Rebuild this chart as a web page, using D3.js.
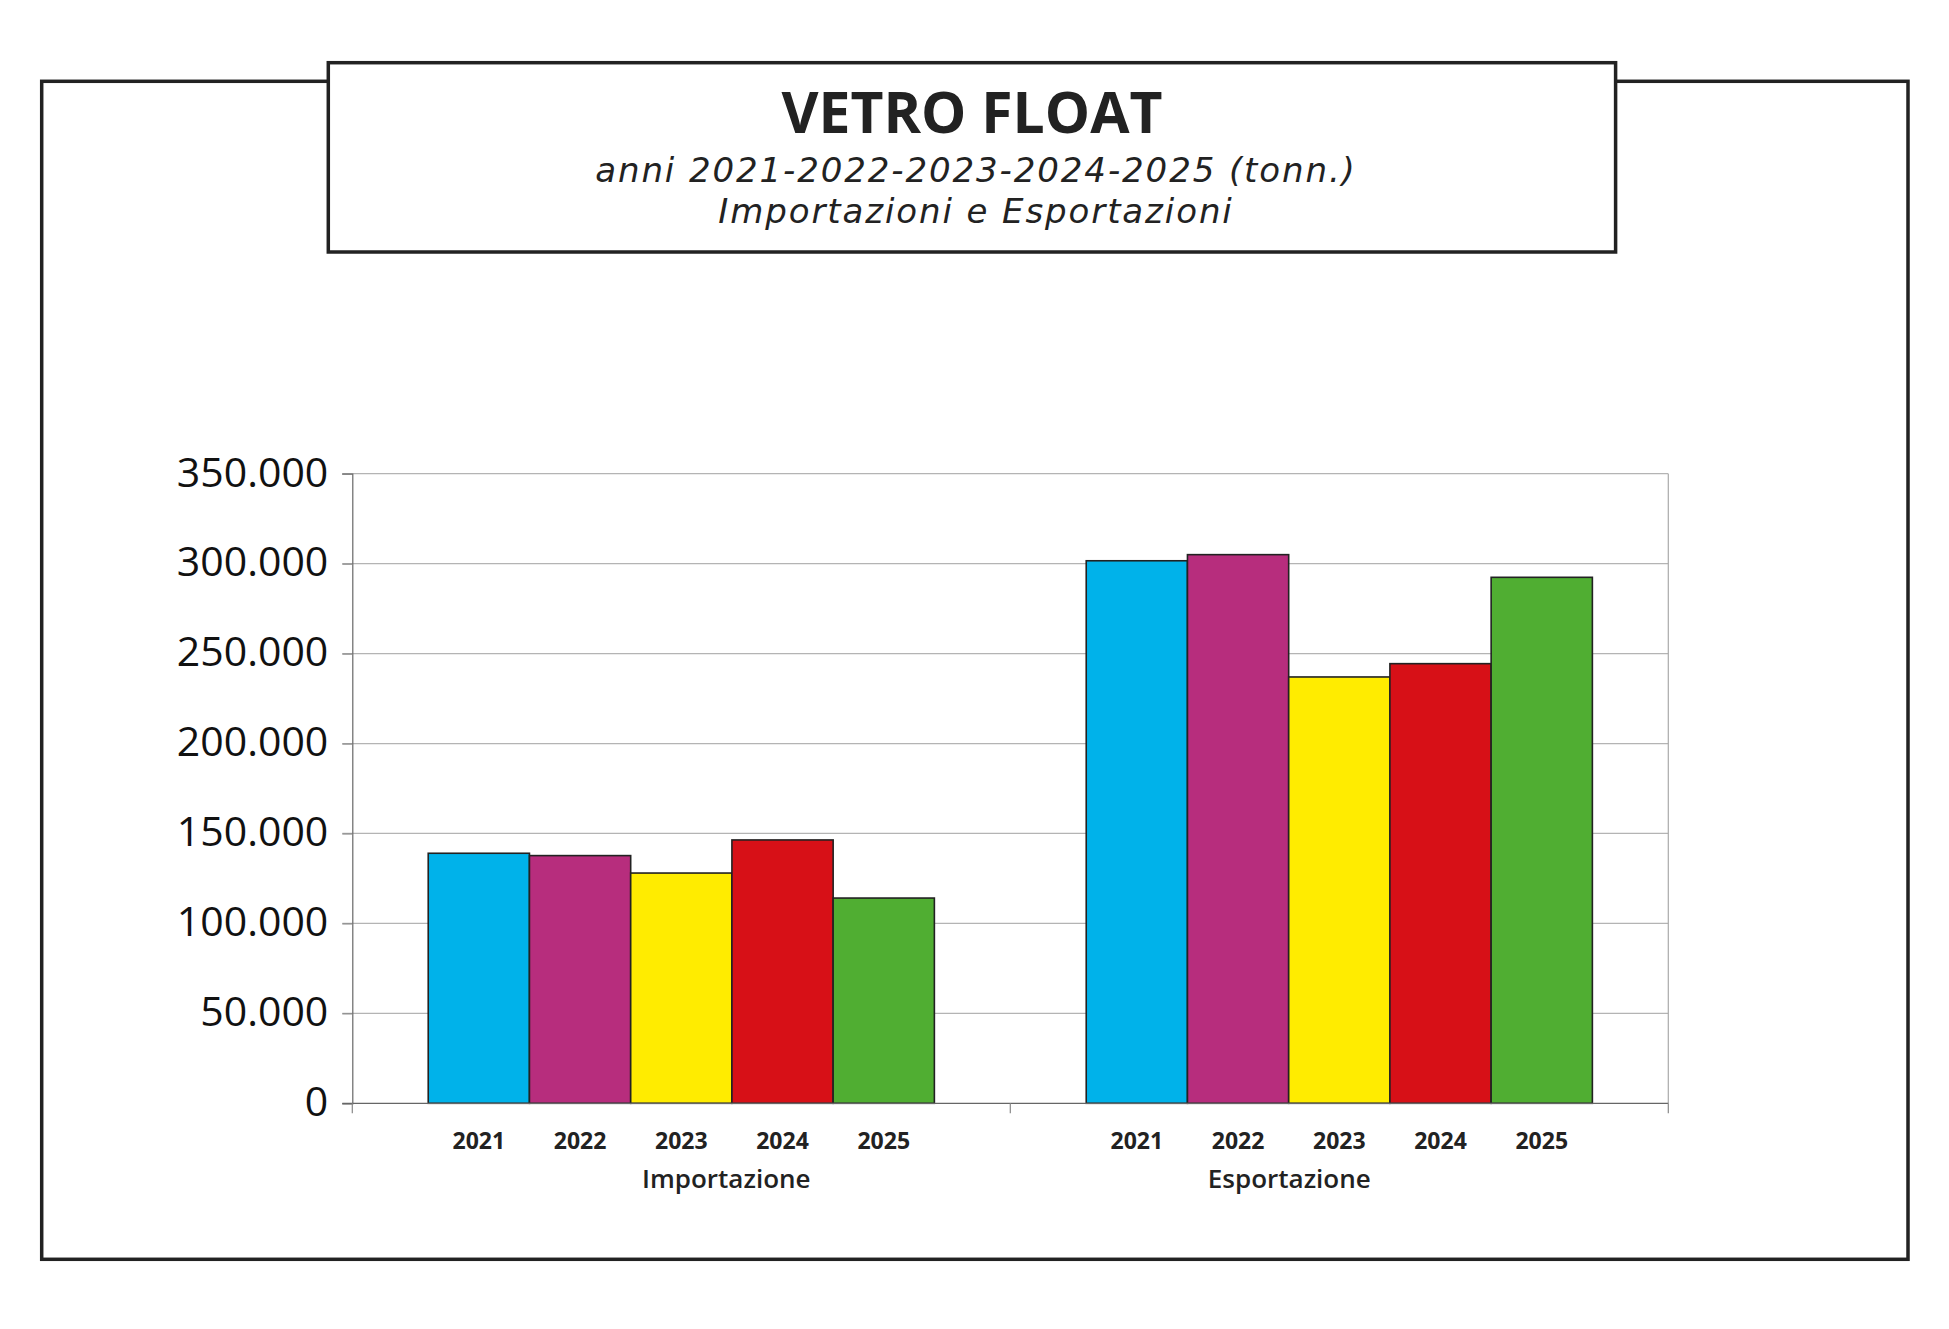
<!DOCTYPE html>
<html>
<head>
<meta charset="utf-8">
<script src="https://cdn.jsdelivr.net/npm/d3@7"></script>
<style>
  body { margin: 0; background: #fff; }
  svg { display: block; }
</style>
</head>
<body>
<svg id="chart" width="1949" height="1329"></svg>
<script>
// data (tonnellate)
var groups = ["Importazione", "Esportazione"];
var years = ["2021", "2022", "2023", "2024", "2025"];
var importValues = [139000, 137700, 128000, 146400, 114100];
var exportValues = [301600, 305000, 237000, 244400, 292400];
var yearColors = ["#00b2ea", "#b72d7d", "#ffec00", "#d71017", "#50ae32"];
var yTicks = [0, 50000, 100000, 150000, 200000, 250000, 300000, 350000];
var groupLabelShift = [45, -50];

var titleText = "VETRO FLOAT";
var subLines = ["anni 2021-2022-2023-2024-2025 (tonn.)", "Importazioni e Esportazioni"];

var it = d3.formatLocale({ decimal: ",", thousands: ".", grouping: [3], currency: ["€", ""] });
var fmt = it.format(",d");

var svg_canvas = d3.select("#chart");
svg_canvas.append("rect").attr("width", 1949).attr("height", 1329).attr("fill", "#fff");

// outer frame + title box
svg_canvas.append("rect")
   .attr("x", 41.7).attr("y", 81.3).attr("width", 1908 - 41.7).attr("height", 1259.3 - 81.3)
   .attr("fill", "none").attr("stroke", "#222").attr("stroke-width", 3.5);
svg_canvas.append("rect")
   .attr("x", 328.3).attr("y", 62.7).attr("width", 1615.6 - 328.3).attr("height", 252 - 62.7)
   .attr("fill", "#fff").attr("stroke", "#222").attr("stroke-width", 3.5);

svg_canvas.append("text")
   .attr("x", 972).attr("y", 133)
   .attr("text-anchor", "middle")
   .style("font-family", "'Open Sans', sans-serif").style("font-weight", 700)
   .style("font-size", "57px").style("fill", "#222")
   .text(titleText);
svg_canvas.selectAll("text.sub").data(subLines).enter().append("text").attr("class", "sub")
   .attr("x", 976).attr("y", function(d, i) { return 182 + i * 41; })
   .attr("text-anchor", "middle")
   .style("font-family", "'DejaVu Sans', sans-serif").style("font-style", "italic")
   .style("font-size", "34px").style("letter-spacing", "1.9px").style("fill", "#222")
   .text(function(d) { return d; });

// scales
var x0 = d3.scaleBand().domain(groups).range([352.3, 1668.3]);
var x1 = d3.scaleBand().domain(years).range([0, x0.bandwidth()]).paddingInner(0).paddingOuter(0.75);
var y = d3.scaleLinear().domain([0, 350000]).range([1103.3, 473.7]);

var plot = svg_canvas.append("g");

// gridlines
plot.selectAll("line.grid").data(yTicks.filter(function(d) { return d > 0; })).enter()
   .append("line").attr("class", "grid")
   .attr("x1", 342.3).attr("x2", x0.range()[1])
   .attr("y1", function(d) { return y(d); }).attr("y2", function(d) { return y(d); })
   .attr("stroke", "#b4b4b4").attr("stroke-width", 1.2);
plot.append("line")
   .attr("x1", x0.range()[1]).attr("x2", x0.range()[1])
   .attr("y1", y(350000)).attr("y2", y(0))
   .attr("stroke", "#aaa").attr("stroke-width", 1.2);

// y axis
var yAxis = d3.axisLeft(y).tickValues(yTicks).tickFormat(fmt).tickSize(10).tickPadding(14);
var gy = plot.append("g").attr("transform", "translate(352.3,0)").call(yAxis);
gy.select(".domain").attr("stroke", "#666").attr("stroke-width", 1.2);
gy.selectAll(".tick line").attr("stroke", "#888").attr("stroke-width", 1.2);
gy.selectAll(".tick text")
   .style("font-family", "'Open Sans', sans-serif").style("font-size", "41px")
   .style("fill", "#111").attr("dy", "0.3em");

// bars
var series = [importValues, exportValues];
var grp = plot.selectAll("g.grp").data(groups).enter().append("g").attr("class", "grp")
   .attr("transform", function(d) { return "translate(" + x0(d) + ",0)"; });
grp.selectAll("rect").data(function(d, i) {
      return years.map(function(yr, j) { return { year: yr, value: series[i][j], color: yearColors[j] }; });
   }).enter().append("rect")
   .attr("x", function(d) { return x1(d.year); })
   .attr("width", x1.bandwidth())
   .attr("y", function(d) { return y(d.value); })
   .attr("height", function(d) { return y(0) - y(d.value); })
   .attr("fill", function(d) { return d.color; })
   .attr("stroke", "#222").attr("stroke-width", 1.6);

// x axis line + group separators
plot.append("line")
   .attr("x1", 342.3).attr("x2", x0.range()[1])
   .attr("y1", y(0)).attr("y2", y(0))
   .attr("stroke", "#666").attr("stroke-width", 1.2);
var seps = groups.map(function(g) { return x0(g); }).concat([x0.range()[1]]);
plot.selectAll("line.sep").data(seps).enter().append("line").attr("class", "sep")
   .attr("x1", function(d) { return d; }).attr("x2", function(d) { return d; })
   .attr("y1", y(0)).attr("y2", y(0) + 10)
   .attr("stroke", "#888").attr("stroke-width", 1.2);

// year labels
grp.selectAll("text.yr").data(years).enter().append("text").attr("class", "yr")
   .attr("x", function(d) { return x1(d) + x1.bandwidth() / 2; })
   .attr("y", 1149.3)
   .attr("text-anchor", "middle")
   .style("font-family", "'Open Sans', sans-serif").style("font-weight", 700)
   .style("font-size", "23px").style("fill", "#222")
   .text(function(d) { return d; });

// group labels
grp.append("text")
   .attr("x", function(d, i) { return x0.bandwidth() / 2 + groupLabelShift[i]; })
   .attr("y", 1188.3)
   .attr("text-anchor", "middle")
   .style("font-family", "'Open Sans', sans-serif").style("font-weight", 600)
   .style("font-size", "26px").style("fill", "#222")
   .text(function(d) { return d; });
</script>
</body>
</html>
